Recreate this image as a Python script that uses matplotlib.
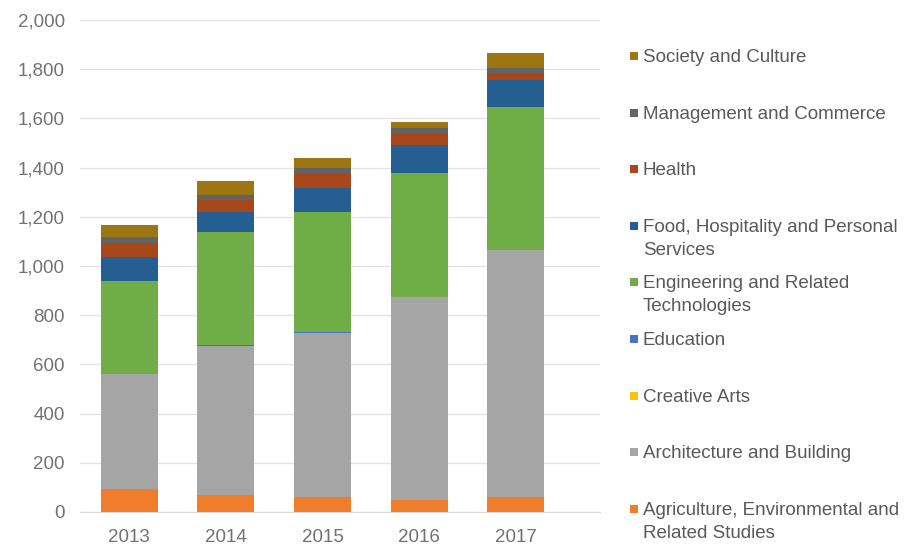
import matplotlib
matplotlib.use("Agg")
import matplotlib.pyplot as plt
import numpy as np

plt.rcParams['font.family'] = ['Liberation Sans', 'DejaVu Sans']

years = ["2013", "2014", "2015", "2016", "2017"]

# Stacked from bottom to top
agriculture = [93, 69, 61, 49, 61]
architecture = [467, 606, 667, 825, 1004]
creative_arts = [1, 1, 1, 1, 1]
education = [1, 1, 1, 1, 1]
engineering = [377, 462, 491, 503, 580]
food_hospitality = [98, 81, 98, 114, 110]
health = [57, 49, 61, 49, 28]
management = [24, 20, 20, 20, 20]
society = [49, 57, 41, 24, 61]

series_names = [
    "Agriculture, Environmental and\nRelated Studies",
    "Architecture and Building",
    "Creative Arts",
    "Education",
    "Engineering and Related\nTechnologies",
    "Food, Hospitality and Personal\nServices",
    "Health",
    "Management and Commerce",
    "Society and Culture",
]
series_values = [agriculture, architecture, creative_arts, education,
                 engineering, food_hospitality, health, management, society]
series_colors = ["#F07D2C", "#A5A5A5", "#FFC000", "#4472C4", "#70AD47",
                 "#255E91", "#A8481A", "#636363", "#9C7610"]

W, H = 923, 554
fig = plt.figure(figsize=(W / 100, H / 100), dpi=100)
ax = fig.add_axes([80 / W, 1 - 512 / H, (600 - 80) / W, (512 - 20) / H])

x = np.arange(len(years))
bottom = np.zeros(len(years))
for vals, col in zip(series_values, series_colors):
    v = np.array(vals, dtype=float)
    ax.bar(x, v, width=0.59, bottom=bottom, color=col, linewidth=0, zorder=3)
    bottom += v

ax.set_ylim(0, 2000)
ax.set_xlim(-0.51, 4.87)
ax.set_yticks(np.arange(0, 2001, 200))
ax.set_yticklabels([f"{t:,}" for t in range(0, 2001, 200)])
ax.set_xticks(x)
ax.set_xticklabels(years)
ax.yaxis.grid(True, color="#E4E4E4", linewidth=1, zorder=0)
ax.set_axisbelow(True)
for s in ["top", "right", "left"]:
    ax.spines[s].set_visible(False)
ax.spines["bottom"].set_color("#D9D9D9")
ax.tick_params(axis="both", length=0, labelsize=13.5, colors="#727272")
ax.tick_params(axis="y", pad=11)
ax.tick_params(axis="x", pad=12)

# Legend, top entry = top of the stack
legend_top = 56
legend_step = 56.6
for i, (name, col) in enumerate(zip(series_names[::-1], series_colors[::-1])):
    yc = legend_top + i * legend_step
    fig.patches.append(plt.Rectangle((630 / W, 1 - (yc + 4) / H), 8 / W, 8 / H,
                                     transform=fig.transFigure, facecolor=col,
                                     edgecolor="none"))
    fig.text(643 / W, 1 - (yc - 7) / H, name, fontsize=13.5, color="#595959",
             va="top", ha="left", linespacing=1.45)

fig.savefig("out.png", dpi=100, facecolor="white")
